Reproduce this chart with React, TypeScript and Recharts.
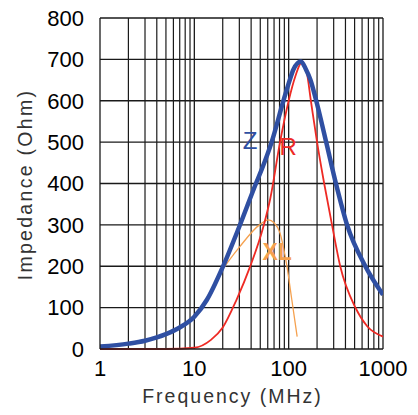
import {
  LineChart,
  Line,
  XAxis,
  YAxis,
  ReferenceLine,
  ReferenceDot,
} from "recharts";

// impedance curves (frequency in MHz, ohm)
const zFreq = [1, 2, 3, 4, 5, 7, 10, 13.6, 20, 30, 45, 52, 66, 88, 102, 112, 135, 153, 170, 196, 250, 317, 416, 650, 1000];
const zOhm = [6, 13, 20, 28, 36, 52, 78, 119, 198, 296, 400, 435, 500, 600, 648, 675, 695, 675, 651, 600, 500, 400, 300, 200, 131];

const rFreq = [1, 5, 10, 15, 20, 28, 39, 54, 64, 81, 100, 118, 138, 155, 172, 200, 238, 288, 352, 510, 680, 1000];
const rOhm = [0, 0, 3, 22, 52, 119, 199, 296, 365, 500, 600, 660, 693, 670, 600, 500, 400, 300, 200, 100, 55, 30];

const xlFreq = [21, 30.5, 49, 61, 70, 81, 92, 96, 108, 123];
const xlOhm = [200, 248, 300, 312, 305, 280, 223, 199, 119, 30];

const xTicks = [1, 10, 100, 1000];
const yTicks = [0, 100, 200, 300, 400, 500, 600, 700, 800];
const minorFreqs = [2, 3, 4, 5, 6, 7, 8, 9, 20, 30, 40, 50, 60, 70, 80, 90, 200, 300, 400, 500, 600, 700, 800, 900];

const zData = zFreq.map((f, i) => ({ f, v: zOhm[i] }));
const rData = rFreq.map((f, i) => ({ f, v: rOhm[i] }));
const xlData = xlFreq.map((f, i) => ({ f, v: xlOhm[i] }));

const FONT = "'Liberation Sans', Arial, sans-serif";
const GRID = "#1a1a1a";

export default function App() {
  return (
    <div style={{ position: "absolute", left: 0, top: 0, background: "#fff" }}>
      <LineChart
        width={418}
        height={415}
        margin={{ top: 18, right: 35, bottom: 0, left: 0 }}
      >
        <XAxis
          type="number"
          dataKey="f"
          scale="log"
          domain={[1, 1000]}
          ticks={xTicks}
          allowDataOverflow
          height={66}
          tickLine={false}
          tickMargin={5}
          axisLine={{ stroke: GRID, strokeWidth: 1.3 }}
          tick={{ fill: "#000", fontSize: 22, fontFamily: FONT }}
          label={{
            content: ({ viewBox }: any) => (
              <text
                x={viewBox.x + viewBox.width / 2 - 9}
                y={viewBox.y + 54}
                textAnchor="middle"
                fill="#333"
                fontSize={19.5}
                letterSpacing={2}
                fontFamily={FONT}
              >
                Frequency (MHz)
              </text>
            ),
          }}
        />
        <YAxis
          type="number"
          domain={[0, 800]}
          ticks={yTicks}
          width={100}
          tickLine={false}
          tickMargin={10}
          axisLine={{ stroke: GRID, strokeWidth: 1.3 }}
          tick={{ fill: "#000", fontSize: 22, fontFamily: FONT }}
          label={{
            content: ({ viewBox }: any) => {
              const cx = 32;
              const cy = viewBox.y + viewBox.height / 2 + 1;
              return (
                <text
                  x={cx}
                  y={cy}
                  transform={`rotate(-90, ${cx}, ${cy})`}
                  textAnchor="middle"
                  fill="#333"
                  fontSize={19.5}
                  letterSpacing={2.3}
                  fontFamily={FONT}
                >
                  Impedance (Ohm)
                </text>
              );
            },
          }}
        />

        {/* grid */}
        {minorFreqs.map((f) => (
          <ReferenceLine key={"v" + f} x={f} stroke={GRID} strokeWidth={1.2} />
        ))}
        {xTicks.slice(1).map((f) => (
          <ReferenceLine key={"V" + f} x={f} stroke={GRID} strokeWidth={1.3} />
        ))}
        {yTicks.slice(1).map((v) => (
          <ReferenceLine key={"h" + v} y={v} stroke={GRID} strokeWidth={1.3} />
        ))}

        <Line
          data={xlData}
          dataKey="v"
          type="monotone"
          stroke="#f5a14f"
          strokeWidth={1.3}
          dot={false}
          isAnimationActive={false}
        />
        <Line
          data={rData}
          dataKey="v"
          type="monotone"
          stroke="#ee2a24"
          strokeWidth={1.8}
          dot={false}
          isAnimationActive={false}
        />
        <Line
          data={zData}
          dataKey="v"
          type="monotone"
          stroke="#2f4fa2"
          strokeWidth={4.5}
          dot={false}
          isAnimationActive={false}
        />

        <ReferenceDot
          x={39}
          y={504}
          r={0}
          stroke="none"
          label={{ value: "Z", position: "center", fill: "#2f4fa2", fontSize: 24, fontFamily: FONT }}
        />
        <ReferenceDot
          x={99}
          y={489}
          r={0}
          stroke="none"
          label={{ value: "R", position: "center", fill: "#ee2a24", fontSize: 24, fontFamily: FONT }}
        />
        <ReferenceDot
          x={75.5}
          y={235}
          r={0}
          stroke="none"
          label={{ value: "XL", position: "center", fill: "#f5a14f", fontSize: 23, fontWeight: 700, fontFamily: FONT }}
        />
      </LineChart>
    </div>
  );
}
